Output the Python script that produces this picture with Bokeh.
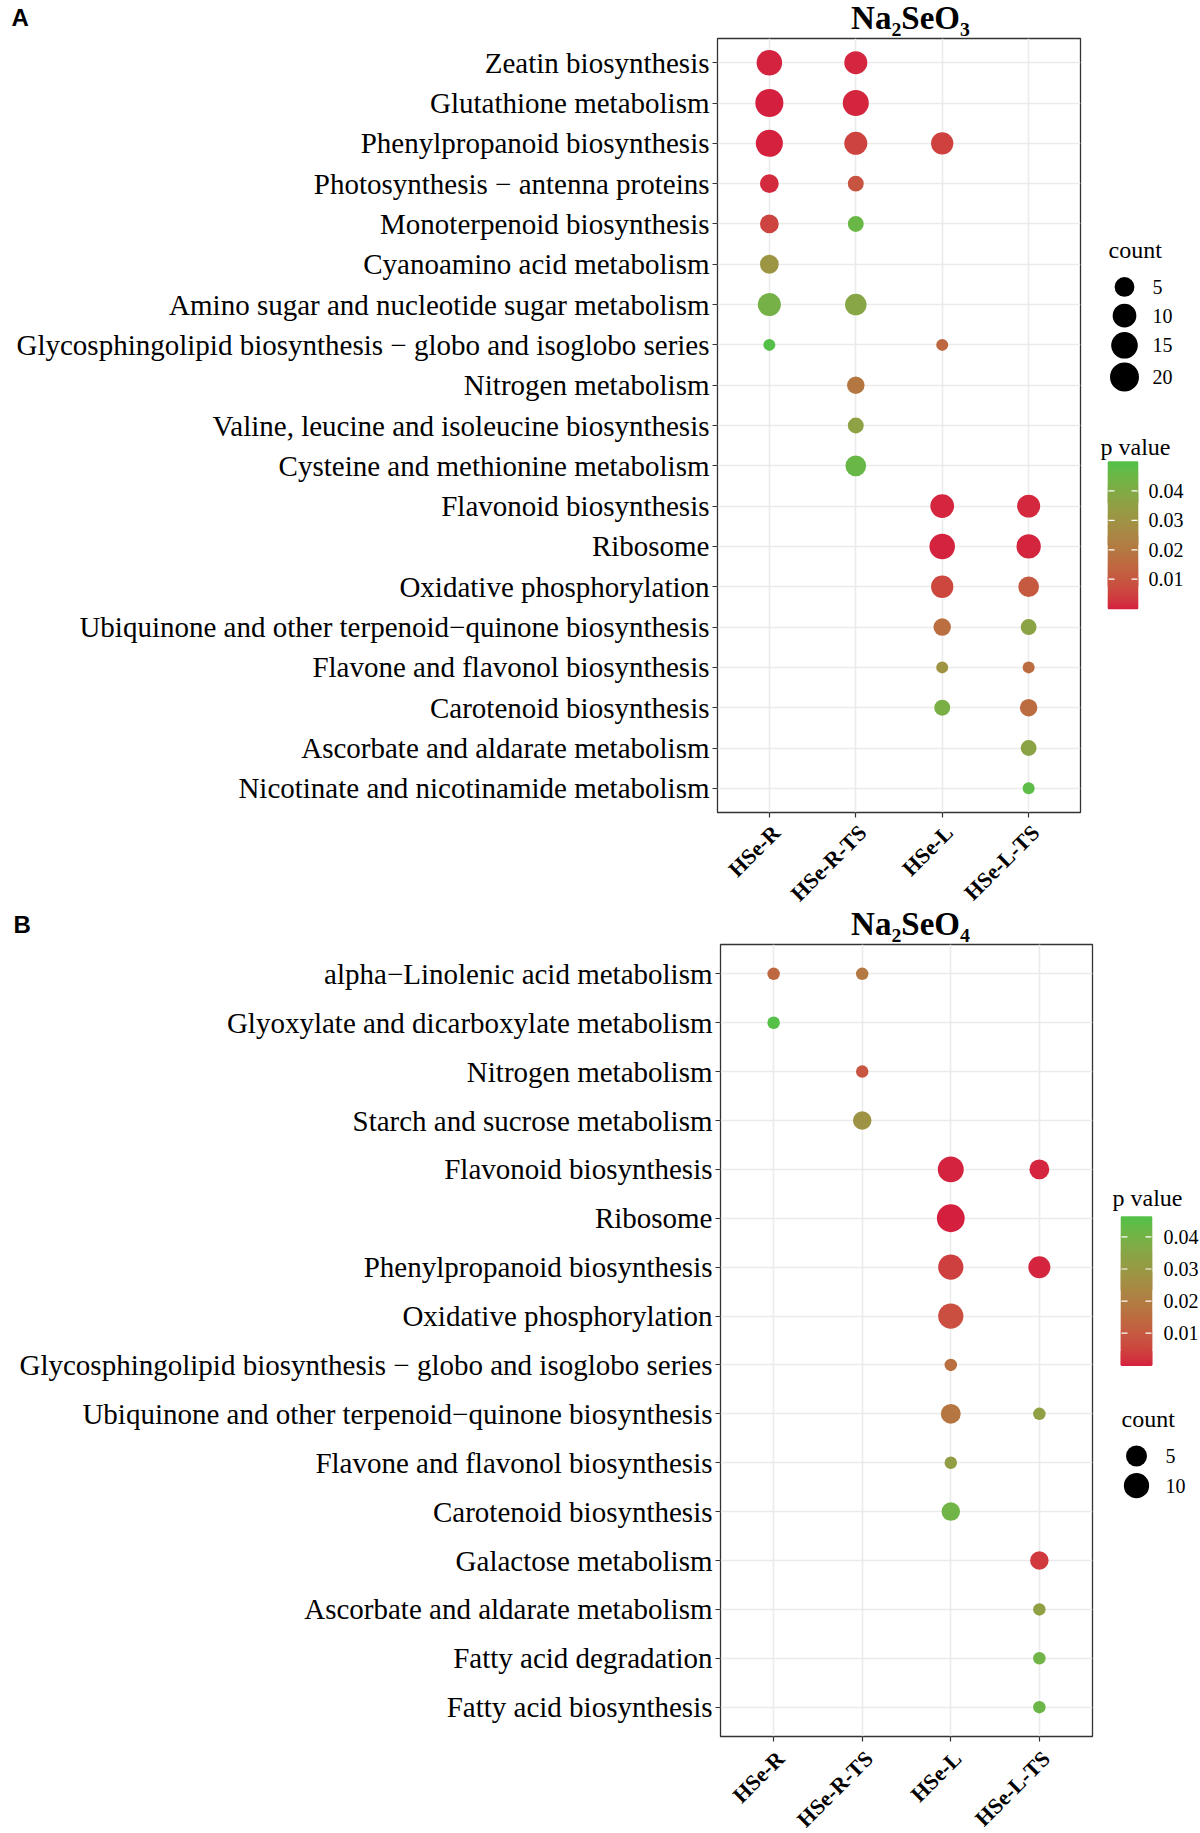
import math
import numpy as np
from bokeh.plotting import figure
from bokeh.models import Range1d, FixedTicker, ColumnDataSource
from bokeh.layouts import column, row
from bokeh.transform import linear_cmap
from bokeh.core.properties import value
from bokeh.embed import file_html
from bokeh.resources import INLINE

# ---------------- data ----------------
groups = ["HSe-R", "HSe-R-TS", "HSe-L", "HSe-L-TS"]

a_title = "Na\u2082SeO\u2083"
a_pathways = [
    "Zeatin biosynthesis",
    "Glutathione metabolism",
    "Phenylpropanoid biosynthesis",
    "Photosynthesis \u2212 antenna proteins",
    "Monoterpenoid biosynthesis",
    "Cyanoamino acid metabolism",
    "Amino sugar and nucleotide sugar metabolism",
    "Glycosphingolipid biosynthesis \u2212 globo and isoglobo series",
    "Nitrogen metabolism",
    "Valine, leucine and isoleucine biosynthesis",
    "Cysteine and methionine metabolism",
    "Flavonoid biosynthesis",
    "Ribosome",
    "Oxidative phosphorylation",
    "Ubiquinone and other terpenoid\u2212quinone biosynthesis",
    "Flavone and flavonol biosynthesis",
    "Carotenoid biosynthesis",
    "Ascorbate and aldarate metabolism",
    "Nicotinate and nicotinamide metabolism",
]
a_row = [0, 0, 1, 1, 2, 2, 2, 3, 3, 4, 4, 5, 6, 6, 7, 7, 8, 9, 10,
         11, 11, 12, 12, 13, 13, 14, 14, 15, 15, 16, 16, 17, 18]
a_col = [0, 1, 0, 1, 0, 1, 2, 0, 1, 0, 1, 0, 0, 1, 0, 2, 1, 1, 1,
         2, 3, 2, 3, 2, 3, 2, 3, 2, 3, 2, 3, 3, 3]
a_count = [13, 9, 18, 14, 16, 9, 8, 4, 2, 4, 2, 4, 9, 7, 1, 1, 3, 2, 6,
           10, 9, 13, 11, 8, 6, 3, 2, 1, 1, 2, 3, 2, 1]
a_pval = [0.0004, 0.0008, 0.00001, 0.0006, 0.0003, 0.0055, 0.005, 0.0015, 0.0095,
          0.0055, 0.046, 0.031, 0.043, 0.038, 0.0498, 0.015, 0.020, 0.036, 0.046,
          0.0008, 0.001, 0.0004, 0.0006, 0.0065, 0.011, 0.017, 0.037, 0.030, 0.016,
          0.042, 0.016, 0.037, 0.048]
a_count_breaks = [5, 10, 15, 20]

b_title = "Na\u2082SeO\u2084"
b_pathways = [
    "alpha\u2212Linolenic acid metabolism",
    "Glyoxylate and dicarboxylate metabolism",
    "Nitrogen metabolism",
    "Starch and sucrose metabolism",
    "Flavonoid biosynthesis",
    "Ribosome",
    "Phenylpropanoid biosynthesis",
    "Oxidative phosphorylation",
    "Glycosphingolipid biosynthesis \u2212 globo and isoglobo series",
    "Ubiquinone and other terpenoid\u2212quinone biosynthesis",
    "Flavone and flavonol biosynthesis",
    "Carotenoid biosynthesis",
    "Galactose metabolism",
    "Ascorbate and aldarate metabolism",
    "Fatty acid degradation",
    "Fatty acid biosynthesis",
]
b_row = [0, 0, 1, 2, 3, 4, 4, 5, 6, 6, 7, 8, 9, 9, 10, 11, 12, 13, 14, 15]
b_col = [0, 1, 0, 1, 1, 2, 3, 2, 2, 3, 2, 2, 2, 3, 2, 2, 3, 3, 3, 3]
b_count = [1, 1, 1, 1, 3, 11, 4, 14, 10, 6, 10, 1, 4, 1, 1, 3, 3, 1, 1, 1]
b_pval = [0.014, 0.019, 0.0462, 0.009, 0.028, 0.0005, 0.0008, 0.00001, 0.0045, 0.0006,
          0.0075, 0.016, 0.018, 0.033, 0.032, 0.041, 0.0035, 0.033, 0.041, 0.042]
b_count_breaks = [5, 10]

p_breaks = [0.01, 0.02, 0.03, 0.04]

# ---------------- colour ramp (CIE Lab interpolation, like ggplot) ----------------
LOW, HIGH = (213, 31, 62), (84, 192, 72)


def _lin(c):
    c = c / 255.0
    return c / 12.92 if c <= 0.04045 else ((c + 0.055) / 1.055) ** 2.4


def _gam(c):
    c = 12.92 * c if c <= 0.0031308 else 1.055 * c ** (1 / 2.4) - 0.055
    return int(round(min(max(c, 0), 1) * 255))


WP = (0.95047, 1.0, 1.08883)
M = np.array([[0.4124, 0.3576, 0.1805], [0.2126, 0.7152, 0.0722], [0.0193, 0.1192, 0.9505]])
MI = np.linalg.inv(M)


def _f(t):
    d = 6 / 29
    return t ** (1 / 3) if t > d ** 3 else t / (3 * d * d) + 4 / 29


def _fi(t):
    d = 6 / 29
    return t ** 3 if t > d else 3 * d * d * (t - 4 / 29)


def to_lab(rgb):
    xyz = M @ np.array([_lin(c) for c in rgb])
    fx, fy, fz = (_f(xyz[i] / WP[i]) for i in range(3))
    return (116 * fy - 16, 500 * (fx - fy), 200 * (fy - fz))


def from_lab(lab):
    L, a, b = lab
    fy = (L + 16) / 116
    fx = fy + a / 500
    fz = fy - b / 200
    xyz = np.array([_fi(fx) * WP[0], _fi(fy) * WP[1], _fi(fz) * WP[2]])
    rgb = MI @ xyz
    return "#%02x%02x%02x" % tuple(_gam(c) for c in rgb)


l0, l1 = to_lab(LOW), to_lab(HIGH)
palette = [from_lab(tuple(l0[k] + (l1[k] - l0[k]) * t for k in range(3))) for t in np.linspace(0, 1, 256)]

SERIF = "Liberation Serif"
PAGE_W = 1200


def size_a(c):
    return 12 + 3.9 * math.sqrt(c - 1)


def size_b(c):
    return 12.5 + 4.25 * math.sqrt(c - 1)


def blank(width, height, x_range, y_range):
    f = figure(width=width, height=height, x_range=x_range, y_range=y_range,
               x_axis_type=None, y_axis_type=None, output_backend="svg",
               toolbar_location=None, title=None, min_border=0,
               min_border_left=0, min_border_right=0, min_border_top=0, min_border_bottom=0)
    f.grid.visible = False
    f.outline_line_color = None
    f.background_fill_color = "white"
    f.border_fill_color = "white"
    return f


def make_panel(pathways, rows, cols, counts, pvals, size_fn, frame_w, frame_h, left, right, bottom):
    n = len(pathways)
    lo, hi = min(pvals), max(pvals)
    top = 2
    p = figure(width=left + frame_w + right, height=top + frame_h + bottom,
               x_range=Range1d(-0.6, 3.6), y_range=Range1d(n - 1 + 0.6, -0.6),
               output_backend="svg", toolbar_location=None, title=None,
               min_border_left=left, min_border_right=right,
               min_border_top=top, min_border_bottom=bottom)
    p.background_fill_color = "white"
    p.border_fill_color = "white"
    p.outline_line_color = "#333333"
    p.outline_line_width = 1.3

    p.xaxis.ticker = FixedTicker(ticks=list(range(len(groups))))
    p.yaxis.ticker = FixedTicker(ticks=list(range(n)))
    p.yaxis.major_label_overrides = {i: s for i, s in enumerate(pathways)}
    p.xaxis.major_label_overrides = {i: "" for i in range(len(groups))}
    p.xaxis.major_label_text_font_size = "1px"
    p.xaxis.major_label_standoff = 0
    for ax in (p.xaxis, p.yaxis):
        ax.axis_line_color = None
        ax.major_tick_in = 0
        ax.major_tick_out = 5
        ax.major_tick_line_color = "#333333"
        ax.major_tick_line_width = 1.2
        ax.minor_tick_line_color = None
    p.yaxis.major_label_text_font = SERIF
    p.yaxis.major_label_text_font_size = "29px"
    p.yaxis.major_label_text_color = "black"
    p.yaxis.major_label_standoff = 3
    p.xgrid.grid_line_color = "#EBEBEB"
    p.ygrid.grid_line_color = "#EBEBEB"
    p.xgrid.grid_line_width = 1.6
    p.ygrid.grid_line_width = 1.6

    src = ColumnDataSource(dict(x=cols, y=rows, count=counts, p=pvals,
                                size=[size_fn(c) for c in counts]))
    p.scatter("x", "y", source=src, size="size", line_color=None,
              fill_color=linear_cmap("p", palette, lo, hi))
    return p, lo, hi


def make_header(h, title, letter, title_xy, letter_xy):
    head = blank(PAGE_W, h, Range1d(0, PAGE_W), Range1d(h, 0))
    head.text(x=[title_xy[0]], y=[title_xy[1]], text=[title], text_font=value(SERIF),
              text_font_style="bold", text_font_size=value("33px"), text_align="center",
              text_baseline="middle", text_color="black")
    head.text(x=[letter_xy[0]], y=[letter_xy[1]], text=[letter], text_font=value("Liberation Sans"),
              text_font_style="bold", text_font_size=value("24px"), text_align="left",
              text_baseline="middle", text_color="black")
    return head


def make_footer(h, frame_w, left, lab_y):
    # same x scale as the panel above (frame starts `left` px from the page edge)
    u = 4.2 / frame_w
    foot = blank(PAGE_W, h, Range1d(-0.6 - left * u, 3.6 + (PAGE_W - left - frame_w) * u),
                 Range1d(h, 0))
    fsrc = ColumnDataSource(dict(x=list(range(len(groups))), y=[lab_y] * len(groups), text=groups))
    foot.text(x="x", y="y", text="text", source=fsrc, angle=45, angle_units="deg",
              x_offset=-2, text_align="right", text_baseline="top", text_font=value(SERIF),
              text_font_style="bold", text_font_size=value("22px"), text_color="black")
    return foot


def make_legend(W, H, lo, hi, breaks, size_fn, count_pos, circ_x, circ_ys, lab_x,
                pval_pos, bar_x0, bar_x1, bar_top, bar_bot, plab_x):
    q = blank(W, H, Range1d(0, W), Range1d(H, 0))
    q.text(x=[count_pos[0]], y=[count_pos[1]], text=["count"], text_font=value(SERIF),
           text_font_size=value("24px"), text_baseline="middle", text_color="black")
    q.scatter(x=[circ_x] * len(breaks), y=circ_ys, size=[size_fn(b) for b in breaks],
              fill_color="black", line_color=None)
    q.text(x=[lab_x] * len(breaks), y=circ_ys, text=[str(b) for b in breaks],
           text_font=value(SERIF), text_font_size=value("20px"), text_baseline="middle",
           text_color="black")

    q.text(x=[pval_pos[0]], y=[pval_pos[1]], text=["p value"], text_font=value(SERIF),
           text_font_size=value("24px"), text_baseline="middle", text_color="black")
    steps = np.linspace(lo, hi, 151)
    ypos = lambda v: bar_bot - (v - lo) / (hi - lo) * (bar_bot - bar_top)
    bsrc = ColumnDataSource(dict(v=list((steps[:-1] + steps[1:]) / 2),
                                 bottom=[ypos(v) for v in steps[:-1]],
                                 top=[ypos(v) for v in steps[1:]]))
    cmap = linear_cmap("v", palette, lo, hi)
    q.quad(left=bar_x0, right=bar_x1, bottom="bottom", top="top", source=bsrc,
           fill_color=cmap, line_color=cmap, line_width=1.5)
    ty = [ypos(b) for b in p_breaks]
    q.segment(x0=[bar_x0] * 4, x1=[bar_x0 + 6] * 4, y0=ty, y1=ty, line_color="white", line_width=1.2)
    q.segment(x0=[bar_x1 - 6] * 4, x1=[bar_x1] * 4, y0=ty, y1=ty, line_color="white", line_width=1.2)
    q.text(x=[plab_x] * 4, y=ty, text=["%.2f" % b for b in p_breaks], text_font=value(SERIF),
           text_font_size=value("20px"), text_baseline="middle", text_color="black")
    return q


# ---------------- Panel A (page rows 0..907) ----------------
headA = make_header(36, a_title, "A", title_xy=(910, 17), letter_xy=(11, 16.5))
pA, loA, hiA = make_panel(a_pathways, a_row, a_col, a_count, a_pval, size_a,
                          frame_w=363, frame_h=774, left=717, right=10, bottom=6)
lA = make_legend(PAGE_W - pA.width, pA.height, loA, hiA, a_count_breaks, size_a,
                 count_pos=(18, 214), circ_x=34, circ_ys=[251, 280, 310, 342], lab_x=62,
                 pval_pos=(10, 413), bar_x0=18, bar_x1=47, bar_top=428, bar_bot=576, plab_x=58)
footA = make_footer(89, 363, 717, lab_y=1.5)

# ---------------- Panel B (page rows 907..1833) ----------------
headB = make_header(35, b_title, "B", title_xy=(910, 16.5), letter_xy=(13, 16.5))
pB, loB, hiB = make_panel(b_pathways, b_row, b_col, b_count, b_pval, size_b,
                          frame_w=372, frame_h=792, left=720, right=10, bottom=8)
lB = make_legend(PAGE_W - pB.width, pB.height, loB, hiB, b_count_breaks, size_b,
                 count_pos=(19, 480), circ_x=34, circ_ys=[518, 548], lab_x=63,
                 pval_pos=(10, 257), bar_x0=19, bar_x1=49, bar_top=276, bar_bot=426, plab_x=61)
footB = make_footer(89, 372, 720, lab_y=1.5)

layout = column(row(headA), row(pA, lA), row(footA),
                row(headB), row(pB, lB), row(footB))
open("out.html", "w").write(file_html(layout, INLINE))
